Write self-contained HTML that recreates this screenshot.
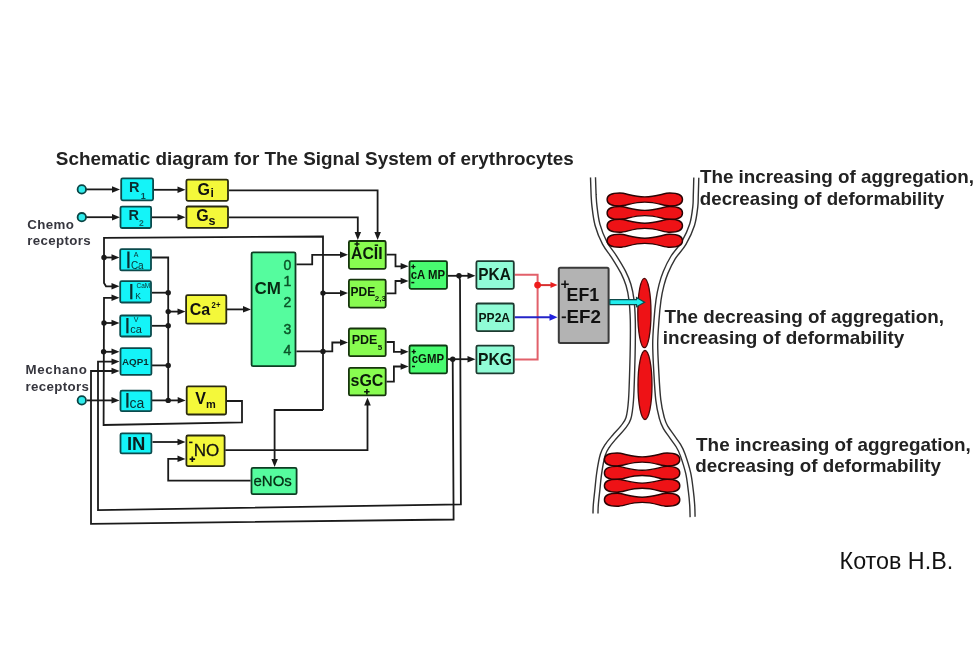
<!DOCTYPE html>
<html><head><meta charset="utf-8"><style>
html,body{margin:0;padding:0;background:#fff;}
svg{display:block;font-family:"Liberation Sans", sans-serif;will-change:transform;filter:blur(0.4px);}
</style></head><body>
<svg width="980" height="657" viewBox="0 0 980 657">
<rect width="980" height="657" fill="#fff"/>
<text x="55.8" y="165.2" font-size="19" font-weight="bold" fill="#222" text-anchor="start" textLength="518" lengthAdjust="spacingAndGlyphs">Schematic diagram for The Signal System of erythrocytes</text>
<path d="M86.0,189.4 L112.0,189.4" fill="none" stroke="#1a1a1a" stroke-width="1.8" stroke-linejoin="miter"/>
<polygon points="120.0,189.4 112.0,186.2 112.0,192.7" fill="#1a1a1a"/>
<path d="M86.0,217.2 L112.0,217.2" fill="none" stroke="#1a1a1a" stroke-width="1.8" stroke-linejoin="miter"/>
<polygon points="120.0,217.2 112.0,213.9 112.0,220.4" fill="#1a1a1a"/>
<path d="M154.0,189.8 L178.0,189.8" fill="none" stroke="#1a1a1a" stroke-width="1.8" stroke-linejoin="miter"/>
<polygon points="185.5,189.8 177.5,186.6 177.5,193.1" fill="#1a1a1a"/>
<path d="M152.0,217.3 L178.0,217.3" fill="none" stroke="#1a1a1a" stroke-width="1.8" stroke-linejoin="miter"/>
<polygon points="185.5,217.3 177.5,214.1 177.5,220.6" fill="#1a1a1a"/>
<path d="M229.0,190.4 L377.6,190.4 L377.6,232.0" fill="none" stroke="#1a1a1a" stroke-width="1.8" stroke-linejoin="miter"/>
<polygon points="377.6,240.0 374.4,232.0 380.9,232.0" fill="#1a1a1a"/>
<path d="M229.0,217.3 L357.8,217.3 L357.8,232.0" fill="none" stroke="#1a1a1a" stroke-width="1.8" stroke-linejoin="miter"/>
<polygon points="357.8,240.0 354.6,232.0 361.1,232.0" fill="#1a1a1a"/>
<path d="M323.0,410.0 L323.0,236.5 L104.0,237.8 L104.0,283.0 L106.0,286.3 L112.0,286.3" fill="none" stroke="#1a1a1a" stroke-width="1.8" stroke-linejoin="miter"/>
<polygon points="119.5,286.3 111.5,283.1 111.5,289.6" fill="#1a1a1a"/>
<circle cx="104" cy="257.5" r="2.7" fill="#1a1a1a"/>
<path d="M104.0,257.5 L112.0,257.5" fill="none" stroke="#1a1a1a" stroke-width="1.8" stroke-linejoin="miter"/>
<polygon points="119.5,257.5 111.5,254.2 111.5,260.8" fill="#1a1a1a"/>
<path d="M227.0,401.0 L242.0,401.0 L242.0,422.4 L103.6,425.0 L104.0,297.8 L112.0,297.8" fill="none" stroke="#1a1a1a" stroke-width="1.8" stroke-linejoin="miter"/>
<polygon points="119.5,297.8 111.5,294.6 111.5,301.1" fill="#1a1a1a"/>
<circle cx="104" cy="323" r="2.7" fill="#1a1a1a"/>
<path d="M104.0,323.0 L112.0,323.0" fill="none" stroke="#1a1a1a" stroke-width="1.8" stroke-linejoin="miter"/>
<polygon points="119.5,323.0 111.5,319.8 111.5,326.2" fill="#1a1a1a"/>
<circle cx="103.6" cy="351.8" r="2.7" fill="#1a1a1a"/>
<path d="M103.6,351.8 L112.0,351.8" fill="none" stroke="#1a1a1a" stroke-width="1.8" stroke-linejoin="miter"/>
<polygon points="119.5,351.8 111.5,348.6 111.5,355.1" fill="#1a1a1a"/>
<path d="M112.0,361.6 L98.0,361.6 L98.0,510.1 L460.9,504.4 L460.0,280.0 L459.0,275.8" fill="none" stroke="#1a1a1a" stroke-width="1.8" stroke-linejoin="miter"/>
<polygon points="119.5,361.6 111.5,358.4 111.5,364.9" fill="#1a1a1a"/>
<path d="M112.0,371.0 L91.0,371.0 L91.0,523.9 L453.6,519.5 L452.7,359.2" fill="none" stroke="#1a1a1a" stroke-width="1.8" stroke-linejoin="miter"/>
<polygon points="119.5,371.0 111.5,367.8 111.5,374.2" fill="#1a1a1a"/>
<path d="M87.0,400.4 L112.0,400.4" fill="none" stroke="#1a1a1a" stroke-width="1.8" stroke-linejoin="miter"/>
<polygon points="119.5,400.4 111.5,397.1 111.5,403.6" fill="#1a1a1a"/>
<path d="M152.0,257.5 L168.2,257.5 L168.2,400.4" fill="none" stroke="#1a1a1a" stroke-width="1.8" stroke-linejoin="miter"/>
<path d="M152.0,292.7 L168.2,292.7" fill="none" stroke="#1a1a1a" stroke-width="1.8" stroke-linejoin="miter"/>
<circle cx="168.2" cy="292.7" r="2.7" fill="#1a1a1a"/>
<path d="M152.0,325.8 L168.2,325.8" fill="none" stroke="#1a1a1a" stroke-width="1.8" stroke-linejoin="miter"/>
<circle cx="168.2" cy="325.8" r="2.7" fill="#1a1a1a"/>
<path d="M152.0,365.4 L168.2,365.4" fill="none" stroke="#1a1a1a" stroke-width="1.8" stroke-linejoin="miter"/>
<circle cx="168.2" cy="365.4" r="2.7" fill="#1a1a1a"/>
<circle cx="168.2" cy="311.6" r="2.7" fill="#1a1a1a"/>
<path d="M168.2,311.6 L178.0,311.6" fill="none" stroke="#1a1a1a" stroke-width="1.8" stroke-linejoin="miter"/>
<polygon points="185.5,311.6 177.5,308.4 177.5,314.9" fill="#1a1a1a"/>
<path d="M152.0,400.4 L178.0,400.4" fill="none" stroke="#1a1a1a" stroke-width="1.8" stroke-linejoin="miter"/>
<circle cx="168.2" cy="400.4" r="2.7" fill="#1a1a1a"/>
<polygon points="185.7,400.4 177.7,397.1 177.7,403.6" fill="#1a1a1a"/>
<path d="M227.0,309.4 L243.0,309.4" fill="none" stroke="#1a1a1a" stroke-width="1.8" stroke-linejoin="miter"/>
<polygon points="251.0,309.4 243.0,306.1 243.0,312.6" fill="#1a1a1a"/>
<path d="M152.5,442.0 L178.0,442.0" fill="none" stroke="#1a1a1a" stroke-width="1.8" stroke-linejoin="miter"/>
<polygon points="185.5,442.0 177.5,438.8 177.5,445.2" fill="#1a1a1a"/>
<path d="M250.6,480.7 L168.2,480.7 L168.2,458.9 L178.0,458.9" fill="none" stroke="#1a1a1a" stroke-width="1.8" stroke-linejoin="miter"/>
<polygon points="185.5,458.9 177.5,455.6 177.5,462.1" fill="#1a1a1a"/>
<path d="M225.3,450.2 L367.5,450.2 L367.5,405.0" fill="none" stroke="#1a1a1a" stroke-width="1.8" stroke-linejoin="miter"/>
<polygon points="367.5,397.5 364.2,405.5 370.8,405.5" fill="#1a1a1a"/>
<path d="M323.0,410.0 L274.6,410.0 L274.6,459.0" fill="none" stroke="#1a1a1a" stroke-width="1.8" stroke-linejoin="miter"/>
<polygon points="274.6,467.0 271.4,459.0 277.9,459.0" fill="#1a1a1a"/>
<path d="M296.4,264.3 L312.2,264.3 L312.2,254.8 L340.0,254.8" fill="none" stroke="#1a1a1a" stroke-width="1.8" stroke-linejoin="miter"/>
<polygon points="348.0,254.8 340.0,251.6 340.0,258.1" fill="#1a1a1a"/>
<circle cx="323" cy="293.1" r="2.7" fill="#1a1a1a"/>
<path d="M323.0,293.1 L340.0,293.1" fill="none" stroke="#1a1a1a" stroke-width="1.8" stroke-linejoin="miter"/>
<polygon points="348.0,293.1 340.0,289.9 340.0,296.4" fill="#1a1a1a"/>
<path d="M296.4,351.4 L332.3,351.4 L332.3,342.5 L340.0,342.5" fill="none" stroke="#1a1a1a" stroke-width="1.8" stroke-linejoin="miter"/>
<circle cx="323" cy="351.4" r="2.7" fill="#1a1a1a"/>
<polygon points="348.0,342.5 340.0,339.2 340.0,345.8" fill="#1a1a1a"/>
<path d="M386.5,254.6 L395.5,254.6 L395.5,266.3 L401.0,266.3" fill="none" stroke="#1a1a1a" stroke-width="1.8" stroke-linejoin="miter"/>
<polygon points="408.6,266.3 400.6,263.1 400.6,269.6" fill="#1a1a1a"/>
<path d="M386.5,293.3 L395.5,293.3 L395.5,281.0 L401.0,281.0" fill="none" stroke="#1a1a1a" stroke-width="1.8" stroke-linejoin="miter"/>
<polygon points="408.6,281.0 400.6,277.8 400.6,284.2" fill="#1a1a1a"/>
<path d="M386.5,342.0 L393.9,342.0 L393.9,351.8 L401.0,351.8" fill="none" stroke="#1a1a1a" stroke-width="1.8" stroke-linejoin="miter"/>
<polygon points="408.6,351.8 400.6,348.6 400.6,355.1" fill="#1a1a1a"/>
<path d="M386.5,381.7 L393.9,381.7 L393.9,366.5 L401.0,366.5" fill="none" stroke="#1a1a1a" stroke-width="1.8" stroke-linejoin="miter"/>
<polygon points="408.6,366.5 400.6,363.2 400.6,369.8" fill="#1a1a1a"/>
<path d="M447.8,275.8 L468.0,275.8" fill="none" stroke="#1a1a1a" stroke-width="1.8" stroke-linejoin="miter"/>
<circle cx="459" cy="275.8" r="2.7" fill="#1a1a1a"/>
<polygon points="475.5,275.8 467.5,272.6 467.5,279.1" fill="#1a1a1a"/>
<path d="M447.8,359.2 L468.0,359.2" fill="none" stroke="#1a1a1a" stroke-width="1.8" stroke-linejoin="miter"/>
<circle cx="452.7" cy="359.2" r="2.7" fill="#1a1a1a"/>
<polygon points="475.5,359.2 467.5,355.9 467.5,362.4" fill="#1a1a1a"/>
<path d="M514.7,274.8 L537.6,274.8 L537.6,359.4 L514.7,359.4" fill="none" stroke="#e2606a" stroke-width="2" stroke-linejoin="miter"/>
<path d="M537.6,285.1 L551.0,285.1" fill="none" stroke="#d83030" stroke-width="2" stroke-linejoin="miter"/>
<circle cx="537.6" cy="285.1" r="3.4" fill="#ee1c1c"/>
<polygon points="557.5,285.1 550.5,282.1 550.5,288.1" fill="#e82020"/>
<path d="M514.7,317.2 L550.0,317.2" fill="none" stroke="#2424c8" stroke-width="2" stroke-linejoin="miter"/>
<polygon points="557.5,317.2 549.5,313.7 549.5,320.7" fill="#2222dd"/>
<rect x="121.2" y="178.4" width="31.9" height="21.9" rx="1.5" fill="#14f4f8" stroke="#0b4a4c" stroke-width="1.8"/>
<rect x="120.5" y="206.6" width="30.6" height="21.4" rx="1.5" fill="#14f4f8" stroke="#0b4a4c" stroke-width="1.8"/>
<rect x="186.4" y="179.6" width="41.6" height="21.2" rx="1.5" fill="#f4f83a" stroke="#2a2a10" stroke-width="1.8"/>
<rect x="186.4" y="206.5" width="41.6" height="21.3" rx="1.5" fill="#f4f83a" stroke="#2a2a10" stroke-width="1.8"/>
<rect x="120.2" y="249.1" width="30.8" height="21.3" rx="1.5" fill="#14f4f8" stroke="#0b4a4c" stroke-width="1.8"/>
<rect x="120.2" y="281.2" width="30.8" height="21.3" rx="1.5" fill="#14f4f8" stroke="#0b4a4c" stroke-width="1.8"/>
<rect x="120.2" y="315.5" width="30.8" height="21.0" rx="1.5" fill="#14f4f8" stroke="#0b4a4c" stroke-width="1.8"/>
<rect x="120.5" y="348.2" width="30.9" height="26.7" rx="1.5" fill="#14f4f8" stroke="#0b4a4c" stroke-width="1.8"/>
<rect x="120.5" y="390.7" width="30.9" height="20.5" rx="1.5" fill="#14f4f8" stroke="#0b4a4c" stroke-width="1.8"/>
<rect x="120.5" y="433.3" width="30.9" height="20.1" rx="1.5" fill="#14f4f8" stroke="#0b4a4c" stroke-width="1.8"/>
<rect x="186.1" y="295.2" width="40.2" height="28.5" rx="1.5" fill="#f4f83a" stroke="#2a2a10" stroke-width="1.8"/>
<rect x="186.7" y="386.4" width="39.4" height="28.1" rx="1.5" fill="#f4f83a" stroke="#2a2a10" stroke-width="1.8"/>
<rect x="186.4" y="435.5" width="38.2" height="30.6" rx="1.5" fill="#f4f83a" stroke="#2a2a10" stroke-width="1.8"/>
<rect x="251.6" y="252.3" width="43.9" height="113.9" rx="1.5" fill="#55fc9e" stroke="#0d3d22" stroke-width="1.8"/>
<rect x="251.5" y="467.9" width="45.1" height="26.3" rx="1.5" fill="#55fc9e" stroke="#0d3d22" stroke-width="1.8"/>
<rect x="348.9" y="241.0" width="36.8" height="27.8" rx="1.5" fill="#88fc50" stroke="#16350c" stroke-width="1.8"/>
<rect x="348.9" y="279.7" width="36.8" height="27.9" rx="1.5" fill="#88fc50" stroke="#16350c" stroke-width="1.8"/>
<rect x="348.9" y="328.5" width="36.8" height="27.7" rx="1.5" fill="#88fc50" stroke="#16350c" stroke-width="1.8"/>
<rect x="348.9" y="367.8" width="36.8" height="27.6" rx="1.5" fill="#88fc50" stroke="#16350c" stroke-width="1.8"/>
<rect x="409.5" y="261.1" width="37.5" height="27.7" rx="1.5" fill="#48fc70" stroke="#0d3a12" stroke-width="1.8"/>
<rect x="409.5" y="345.5" width="37.5" height="27.8" rx="1.5" fill="#48fc70" stroke="#0d3a12" stroke-width="1.8"/>
<rect x="476.4" y="261.2" width="37.4" height="27.6" rx="1.5" fill="#90fcd6" stroke="#1d3a30" stroke-width="1.8"/>
<rect x="476.4" y="303.5" width="37.4" height="27.6" rx="1.5" fill="#90fcd6" stroke="#1d3a30" stroke-width="1.8"/>
<rect x="476.4" y="345.6" width="37.4" height="27.8" rx="1.5" fill="#90fcd6" stroke="#1d3a30" stroke-width="1.8"/>
<rect x="558.8" y="267.7" width="49.8" height="75.3" rx="1.5" fill="#b3b3b3" stroke="#3a3a3a" stroke-width="2"/>
<circle cx="81.8" cy="189.4" r="4.2" fill="#30ecec" stroke="#0a4444" stroke-width="1.8"/>
<circle cx="81.8" cy="217.2" r="4.2" fill="#30ecec" stroke="#0a4444" stroke-width="1.8"/>
<circle cx="81.8" cy="400.4" r="4.2" fill="#30ecec" stroke="#0a4444" stroke-width="1.8"/>
<text x="129" y="191.8" font-size="14.5" font-weight="bold" fill="#0a2e30" text-anchor="start" >R</text>
<text x="140.8" y="199.3" font-size="9" font-weight="bold" fill="#0a4a50" text-anchor="start" >1</text>
<text x="128.5" y="219.6" font-size="14.5" font-weight="bold" fill="#0a2e30" text-anchor="start" >R</text>
<text x="138.9" y="226.2" font-size="8.5" font-weight="bold" fill="#0e6a6a" text-anchor="start" >2</text>
<text x="197.6" y="194.6" font-size="16" font-weight="bold" fill="#111" text-anchor="start" >G</text>
<text x="210.6" y="197.4" font-size="12" font-weight="bold" fill="#111" text-anchor="start" >i</text>
<text x="196.2" y="220.7" font-size="16" font-weight="bold" fill="#111" text-anchor="start" >G</text>
<text x="208.6" y="224.8" font-size="12.5" font-weight="bold" fill="#111" text-anchor="start" >s</text>
<rect x="127.3" y="251.5" width="2.2" height="16.69999999999999" fill="#0a2e30"/>
<text x="133.8" y="256.6" font-size="7" font-weight="normal" fill="#0a2e30" text-anchor="start" >A</text>
<text x="130.9" y="268.9" font-size="10" font-weight="normal" fill="#0a2e30" text-anchor="start" >Ca</text>
<rect x="130.2" y="284" width="2.2" height="15.300000000000011" fill="#0a2e30"/>
<text x="136.5" y="287.7" font-size="6.5" font-weight="normal" fill="#0a2e30" text-anchor="start" >CaM</text>
<text x="135.3" y="298.8" font-size="8.5" font-weight="normal" fill="#0a2e30" text-anchor="start" >K</text>
<rect x="126.3" y="318" width="2.2" height="15.300000000000011" fill="#0a2e30"/>
<text x="133.8" y="322.4" font-size="7" font-weight="normal" fill="#0a2e30" text-anchor="start" >V</text>
<text x="130.2" y="333.3" font-size="11" font-weight="normal" fill="#0a2e30" text-anchor="start" >ca</text>
<text x="122" y="364.7" font-size="9.8" font-weight="bold" fill="#0a2e30" text-anchor="start" >AQP1</text>
<rect x="126.3" y="393" width="2.2" height="14.699999999999989" fill="#0a2e30"/>
<text x="129.6" y="407.7" font-size="14" font-weight="normal" fill="#0a2e30" text-anchor="start" >ca</text>
<text x="126.9" y="449.7" font-size="18.5" font-weight="bold" fill="#0a2020" text-anchor="start" >IN</text>
<text x="189.8" y="314.8" font-size="16" font-weight="bold" fill="#111" text-anchor="start" >Ca</text>
<text x="211.6" y="308.4" font-size="9" font-weight="bold" fill="#111" text-anchor="start" textLength="8.8" lengthAdjust="spacingAndGlyphs">2+</text>
<text x="195.2" y="403.9" font-size="16" font-weight="bold" fill="#111" text-anchor="start" >V</text>
<text x="206" y="407.5" font-size="11" font-weight="bold" fill="#111" text-anchor="start" >m</text>
<text x="193.7" y="455.9" font-size="17" font-weight="normal" fill="#111" text-anchor="start" stroke="#111" stroke-width="0.3">NO</text>
<path d="M189.1,442.4 H192.5" stroke="#111" stroke-width="1.6" fill="none"/>
<path d="M189.6,459.2 H195.1 M192.3,456.4 V461.9" stroke="#111" stroke-width="1.7" fill="none"/>
<text x="254.6" y="293.9" font-size="17" font-weight="bold" fill="#072a12" text-anchor="start" >CM</text>
<text x="283.4" y="269.5" font-size="14" font-weight="normal" fill="#0b5428" text-anchor="start" stroke="#0b5428" stroke-width="0.45">0</text>
<text x="283.4" y="285.8" font-size="14" font-weight="normal" fill="#0b5428" text-anchor="start" stroke="#0b5428" stroke-width="0.45">1</text>
<text x="283.4" y="307.0" font-size="14" font-weight="normal" fill="#0b5428" text-anchor="start" stroke="#0b5428" stroke-width="0.45">2</text>
<text x="283.4" y="333.6" font-size="14" font-weight="normal" fill="#0b5428" text-anchor="start" stroke="#0b5428" stroke-width="0.45">3</text>
<text x="283.4" y="355.3" font-size="14" font-weight="normal" fill="#0b5428" text-anchor="start" stroke="#0b5428" stroke-width="0.45">4</text>
<text x="253.5" y="486.3" font-size="15" font-weight="normal" fill="#062e14" text-anchor="start" stroke="#062e14" stroke-width="0.3">eNOs</text>
<text x="351" y="259.3" font-size="17" font-weight="bold" fill="#0a1a0a" text-anchor="start" textLength="31.6" lengthAdjust="spacingAndGlyphs">ACII</text>
<path d="M354.5,244.1 H359.5 M357.0,241.6 V246.6" stroke="#0a1a0a" stroke-width="1.5" fill="none"/>
<path d="M374.7,245.2 H378.1" stroke="#0a1a0a" stroke-width="1.5" fill="none"/>
<text x="350.5" y="295.8" font-size="12" font-weight="bold" fill="#0a1a0a" text-anchor="start" >PDE</text>
<text x="374.8" y="300.7" font-size="8" font-weight="bold" fill="#0a1a0a" text-anchor="start" >2,3</text>
<text x="351.7" y="344.3" font-size="12.5" font-weight="bold" fill="#0a1a0a" text-anchor="start" >PDE</text>
<text x="377.8" y="349.8" font-size="8" font-weight="bold" fill="#0a1a0a" text-anchor="start" >5</text>
<text x="350.5" y="386.3" font-size="16" font-weight="bold" fill="#0a1a0a" text-anchor="start" >sGC</text>
<path d="M364.1,391.8 H369.6 M366.9,389.1 V394.6" stroke="#0a1a0a" stroke-width="1.6" fill="none"/>
<text x="410.7" y="278.6" font-size="12" font-weight="bold" fill="#0a1a0a" text-anchor="start" textLength="34.3" lengthAdjust="spacingAndGlyphs">cA MP</text>
<path d="M411.2,266.6 H415.4 M413.3,264.5 V268.7" stroke="#0a1a0a" stroke-width="1.4" fill="none"/>
<path d="M411.3,282.6 H414.3" stroke="#0a1a0a" stroke-width="1.5" fill="none"/>
<text x="411.7" y="362.8" font-size="12" font-weight="bold" fill="#0a1a0a" text-anchor="start" textLength="32.3" lengthAdjust="spacingAndGlyphs">cGMP</text>
<path d="M411.7,351.6 H415.9 M413.8,349.5 V353.7" stroke="#0a1a0a" stroke-width="1.4" fill="none"/>
<path d="M412.0,366.5 H415.0" stroke="#0a1a0a" stroke-width="1.5" fill="none"/>
<text x="478.3" y="279.6" font-size="16.5" font-weight="bold" fill="#0a1a10" text-anchor="start" textLength="32.5" lengthAdjust="spacingAndGlyphs">PKA</text>
<text x="478.5" y="322.2" font-size="12.5" font-weight="bold" fill="#0a1a10" text-anchor="start" textLength="31.6" lengthAdjust="spacingAndGlyphs">PP2A</text>
<text x="478" y="365" font-size="16.5" font-weight="bold" fill="#0a1a10" text-anchor="start" textLength="34" lengthAdjust="spacingAndGlyphs">PKG</text>
<text x="566.6" y="300.5" font-size="18.5" font-weight="bold" fill="#111" text-anchor="start" textLength="32.6" lengthAdjust="spacingAndGlyphs">EF1</text>
<path d="M561.2,284.2 H568.8 M565.0,280.4 V287.9" stroke="#111" stroke-width="1.6" fill="none"/>
<text x="566.6" y="322.7" font-size="18.5" font-weight="bold" fill="#111" text-anchor="start" textLength="34.4" lengthAdjust="spacingAndGlyphs">EF2</text>
<path d="M561.7,317.3 H565.9" stroke="#111" stroke-width="1.8" fill="none"/>
<text x="27.3" y="229" font-size="13.3" font-weight="bold" fill="#36363e" text-anchor="start" textLength="46.6" lengthAdjust="spacing">Chemo</text>
<text x="27.3" y="244.7" font-size="13.3" font-weight="bold" fill="#36363e" text-anchor="start" textLength="63.4" lengthAdjust="spacing">receptors</text>
<text x="25.6" y="374.2" font-size="13.3" font-weight="bold" fill="#36363e" text-anchor="start" textLength="61.2" lengthAdjust="spacing">Mechano</text>
<text x="25.6" y="390.9" font-size="13.3" font-weight="bold" fill="#36363e" text-anchor="start" textLength="63.2" lengthAdjust="spacing">receptors</text>
<text x="699.88" y="183.3" font-size="19" font-weight="bold" fill="#222" text-anchor="start" textLength="274.16" lengthAdjust="spacingAndGlyphs">The increasing of aggregation,</text>
<text x="699.86" y="204.7" font-size="19" font-weight="bold" fill="#222" text-anchor="start" textLength="244.20" lengthAdjust="spacingAndGlyphs">decreasing of deformability</text>
<text x="664.62" y="322.7" font-size="19" font-weight="bold" fill="#222" text-anchor="start" textLength="279.48" lengthAdjust="spacingAndGlyphs">The decreasing of aggregation,</text>
<text x="662.86" y="344.4" font-size="19" font-weight="bold" fill="#222" text-anchor="start" textLength="241.48" lengthAdjust="spacingAndGlyphs">increasing of deformability</text>
<text x="696.1" y="450.6" font-size="19" font-weight="bold" fill="#222" text-anchor="start" textLength="274.66" lengthAdjust="spacingAndGlyphs">The increasing of aggregation,</text>
<text x="695.3" y="472.0" font-size="19" font-weight="bold" fill="#222" text-anchor="start" textLength="245.58" lengthAdjust="spacingAndGlyphs">decreasing of deformability</text>
<text x="839.6" y="568.9" font-size="23.2" font-weight="normal" fill="#111" text-anchor="start" textLength="113.6" lengthAdjust="spacingAndGlyphs">Котов Н.В.</text>
<path d="M593.0,177.3 C593.1,180.2 593.4,190.1 593.6,195.0 C593.9,199.9 593.9,201.5 594.5,206.5 C595.1,211.5 595.8,218.7 597.5,224.8 C599.2,230.9 601.8,237.5 604.7,243.0 C607.6,248.5 611.6,252.8 614.7,257.7 C617.8,262.6 621.0,267.8 623.3,272.3 C625.6,276.9 627.1,280.4 628.5,285.0 C629.9,289.6 630.8,294.2 631.5,300.0 C632.2,305.8 632.6,312.7 632.8,320.0 C633.0,327.3 632.9,335.7 632.8,344.0 C632.7,352.3 632.5,360.7 632.2,370.0 C631.9,379.3 631.6,391.9 631.0,400.0 C630.4,408.1 629.8,413.7 628.4,418.3 C627.0,422.9 625.2,424.3 622.9,427.4 C620.6,430.4 617.3,433.6 614.7,436.6 C612.1,439.7 609.4,442.7 607.4,445.7 C605.4,448.7 604.2,450.2 602.8,454.8 C601.4,459.4 600.1,467.0 599.2,473.1 C598.3,479.2 597.8,486.1 597.2,491.4 C596.6,496.7 596.1,501.3 595.8,505.0 C595.5,508.7 595.5,512.1 595.5,513.5" fill="none" stroke="#333" stroke-width="6.4"/>
<path d="M592.9,174.3 C592.9,174.8 592.9,173.9 593.0,177.3 C593.1,180.7 593.4,190.1 593.6,195.0 C593.9,199.9 593.9,201.5 594.5,206.5 C595.1,211.5 595.8,218.7 597.5,224.8 C599.2,230.9 601.8,237.5 604.7,243.0 C607.6,248.5 611.6,252.8 614.7,257.7 C617.8,262.6 621.0,267.8 623.3,272.3 C625.6,276.9 627.1,280.4 628.5,285.0 C629.9,289.6 630.8,294.2 631.5,300.0 C632.2,305.8 632.6,312.7 632.8,320.0 C633.0,327.3 632.9,335.7 632.8,344.0 C632.7,352.3 632.5,360.7 632.2,370.0 C631.9,379.3 631.6,391.9 631.0,400.0 C630.4,408.1 629.8,413.7 628.4,418.3 C627.0,422.9 625.2,424.3 622.9,427.4 C620.6,430.4 617.3,433.6 614.7,436.6 C612.1,439.7 609.4,442.7 607.4,445.7 C605.4,448.7 604.2,450.2 602.8,454.8 C601.4,459.4 600.1,467.0 599.2,473.1 C598.3,479.2 597.8,486.1 597.2,491.4 C596.6,496.7 596.1,501.3 595.8,505.0 C595.5,508.7 595.6,511.6 595.5,513.5 C595.4,515.4 595.4,516.0 595.4,516.5" fill="none" stroke="#fff" stroke-width="3.6"/>
<path d="M696.3,177.7 C696.2,180.6 696.0,190.2 695.8,195.0 C695.6,199.8 695.9,201.6 695.3,206.6 C694.7,211.6 694.0,218.7 692.1,224.8 C690.2,230.9 687.0,237.6 683.8,243.1 C680.6,248.6 675.9,252.9 672.9,257.8 C669.9,262.7 667.5,267.9 665.6,272.4 C663.7,276.9 662.7,280.4 661.5,285.0 C660.3,289.6 659.3,294.2 658.5,300.0 C657.7,305.8 657.0,312.7 656.5,320.0 C656.0,327.3 655.2,335.7 655.2,344.0 C655.2,352.3 655.7,360.7 656.2,370.0 C656.7,379.3 657.3,391.9 658.3,400.0 C659.2,408.1 660.7,413.7 661.9,418.3 C663.1,422.9 663.9,424.3 665.6,427.4 C667.3,430.4 669.9,433.6 672.0,436.6 C674.1,439.7 676.6,442.7 678.4,445.7 C680.2,448.7 681.1,450.2 682.7,454.8 C684.3,459.4 686.8,467.0 688.2,473.1 C689.6,479.2 690.2,486.1 690.9,491.4 C691.6,496.7 691.9,500.7 692.2,505.0 C692.5,509.3 692.5,515.0 692.6,517.0" fill="none" stroke="#333" stroke-width="6.4"/>
<path d="M696.4,174.7 C696.4,175.2 696.4,174.3 696.3,177.7 C696.2,181.1 696.0,190.2 695.8,195.0 C695.6,199.8 695.9,201.6 695.3,206.6 C694.7,211.6 694.0,218.7 692.1,224.8 C690.2,230.9 687.0,237.6 683.8,243.1 C680.6,248.6 675.9,252.9 672.9,257.8 C669.9,262.7 667.5,267.9 665.6,272.4 C663.7,276.9 662.7,280.4 661.5,285.0 C660.3,289.6 659.3,294.2 658.5,300.0 C657.7,305.8 657.0,312.7 656.5,320.0 C656.0,327.3 655.2,335.7 655.2,344.0 C655.2,352.3 655.7,360.7 656.2,370.0 C656.7,379.3 657.3,391.9 658.3,400.0 C659.2,408.1 660.7,413.7 661.9,418.3 C663.1,422.9 663.9,424.3 665.6,427.4 C667.3,430.4 669.9,433.6 672.0,436.6 C674.1,439.7 676.6,442.7 678.4,445.7 C680.2,448.7 681.1,450.2 682.7,454.8 C684.3,459.4 686.8,467.0 688.2,473.1 C689.6,479.2 690.2,486.1 690.9,491.4 C691.6,496.7 691.9,500.7 692.2,505.0 C692.5,509.3 692.5,514.5 692.6,517.0 C692.7,519.5 692.7,519.5 692.7,520.0" fill="none" stroke="#fff" stroke-width="3.6"/>
<path d="M607.1,199.5 C607.1,194.3 613.1,193.0 619.8,193.0 C625.8,193.0 632.8,196.9 644.8,196.9 C656.8,196.9 663.8,193.0 669.8,193.0 C676.5,193.0 682.5,194.3 682.5,199.5 C682.5,204.7 676.5,206.0 669.8,206.0 C663.8,206.0 656.8,202.1 644.8,202.1 C632.8,202.1 625.8,206.0 619.8,206.0 C613.1,206.0 607.1,204.7 607.1,199.5 Z" fill="#ee1216" stroke="#2a0404" stroke-width="1.4"/>
<path d="M607.1,213 C607.1,207.8 613.1,206.5 619.8,206.5 C625.8,206.5 632.8,210.4 644.8,210.4 C656.8,210.4 663.8,206.5 669.8,206.5 C676.5,206.5 682.5,207.8 682.5,213 C682.5,218.2 676.5,219.5 669.8,219.5 C663.8,219.5 656.8,215.6 644.8,215.6 C632.8,215.6 625.8,219.5 619.8,219.5 C613.1,219.5 607.1,218.2 607.1,213 Z" fill="#ee1216" stroke="#2a0404" stroke-width="1.4"/>
<path d="M607.1,225.8 C607.1,220.6 613.1,219.3 619.8,219.3 C625.8,219.3 632.8,223.20000000000002 644.8,223.20000000000002 C656.8,223.20000000000002 663.8,219.3 669.8,219.3 C676.5,219.3 682.5,220.6 682.5,225.8 C682.5,231.0 676.5,232.3 669.8,232.3 C663.8,232.3 656.8,228.4 644.8,228.4 C632.8,228.4 625.8,232.3 619.8,232.3 C613.1,232.3 607.1,231.0 607.1,225.8 Z" fill="#ee1216" stroke="#2a0404" stroke-width="1.4"/>
<path d="M607.1,240.8 C607.1,235.6 613.1,234.3 619.8,234.3 C625.8,234.3 632.8,238.20000000000002 644.8,238.20000000000002 C656.8,238.20000000000002 663.8,234.3 669.8,234.3 C676.5,234.3 682.5,235.6 682.5,240.8 C682.5,246.0 676.5,247.3 669.8,247.3 C663.8,247.3 656.8,243.4 644.8,243.4 C632.8,243.4 625.8,247.3 619.8,247.3 C613.1,247.3 607.1,246.0 607.1,240.8 Z" fill="#ee1216" stroke="#2a0404" stroke-width="1.4"/>
<path d="M604.4,459.5 C604.4,454.3 610.4,453.0 617.1,453.0 C623.1,453.0 630.1,456.9 642.1,456.9 C654.1,456.9 661.1,453.0 667.1,453.0 C673.8,453.0 679.8,454.3 679.8,459.5 C679.8,464.7 673.8,466.0 667.1,466.0 C661.1,466.0 654.1,462.1 642.1,462.1 C630.1,462.1 623.1,466.0 617.1,466.0 C610.4,466.0 604.4,464.7 604.4,459.5 Z" fill="#ee1216" stroke="#2a0404" stroke-width="1.4"/>
<path d="M604.4,472.9 C604.4,467.7 610.4,466.4 617.1,466.4 C623.1,466.4 630.1,470.29999999999995 642.1,470.29999999999995 C654.1,470.29999999999995 661.1,466.4 667.1,466.4 C673.8,466.4 679.8,467.7 679.8,472.9 C679.8,478.1 673.8,479.4 667.1,479.4 C661.1,479.4 654.1,475.5 642.1,475.5 C630.1,475.5 623.1,479.4 617.1,479.4 C610.4,479.4 604.4,478.1 604.4,472.9 Z" fill="#ee1216" stroke="#2a0404" stroke-width="1.4"/>
<path d="M604.4,485.7 C604.4,480.5 610.4,479.2 617.1,479.2 C623.1,479.2 630.1,483.09999999999997 642.1,483.09999999999997 C654.1,483.09999999999997 661.1,479.2 667.1,479.2 C673.8,479.2 679.8,480.5 679.8,485.7 C679.8,490.9 673.8,492.2 667.1,492.2 C661.1,492.2 654.1,488.3 642.1,488.3 C630.1,488.3 623.1,492.2 617.1,492.2 C610.4,492.2 604.4,490.9 604.4,485.7 Z" fill="#ee1216" stroke="#2a0404" stroke-width="1.4"/>
<path d="M604.4,499.8 C604.4,494.6 610.4,493.3 617.1,493.3 C623.1,493.3 630.1,497.2 642.1,497.2 C654.1,497.2 661.1,493.3 667.1,493.3 C673.8,493.3 679.8,494.6 679.8,499.8 C679.8,505.0 673.8,506.3 667.1,506.3 C661.1,506.3 654.1,502.40000000000003 642.1,502.40000000000003 C630.1,502.40000000000003 623.1,506.3 617.1,506.3 C610.4,506.3 604.4,505.0 604.4,499.8 Z" fill="#ee1216" stroke="#2a0404" stroke-width="1.4"/>
<ellipse cx="644.4" cy="313" rx="6.6" ry="34.7" fill="#ee1216" stroke="#4a0808" stroke-width="1.3"/>
<ellipse cx="645" cy="385" rx="7" ry="34.5" fill="#ee1216" stroke="#4a0808" stroke-width="1.3"/>
<path d="M609.8,299.7 L636.5,299.7 L636.5,297.6 L644.6,302.2 L636.5,306.8 L636.5,304.7 L609.8,304.7 Z" fill="#22eeee" stroke="#0e4a4a" stroke-width="1.2"/>
</svg>
</body></html>
